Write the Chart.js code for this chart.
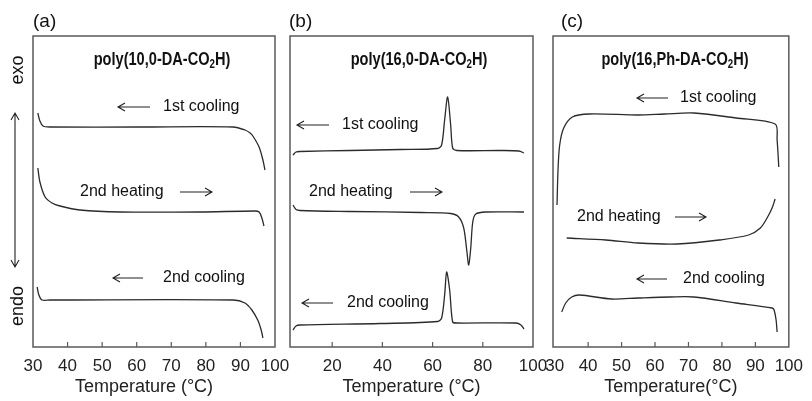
<!DOCTYPE html>
<html>
<head>
<meta charset="utf-8">
<script src="https://cdn.jsdelivr.net/npm/chart.js@4.4.1/dist/chart.umd.min.js"></script>
<style>
  body { margin: 0; background: #fff; }
  #wrap { position: relative; width: 812px; height: 401px; }
  #wrap canvas { position: absolute; left: 0; top: 0; }
</style>
</head>
<body>
<div id="wrap">
  <canvas id="chartA" width="812" height="401"></canvas>
  <canvas id="chartB" width="812" height="401"></canvas>
  <canvas id="chartC" width="812" height="401"></canvas>
</div>
<script>
// tick labels
const ticksA = [30, 40, 50, 60, 70, 80, 90, 100];
const ticksB = [20, 40, 60, 80, 100];
const ticksC = [30, 40, 50, 60, 70, 80, 90, 100];

// (a) poly(10,0-DA-CO2H) - temperature (°C) / heat flow (a.u.)
const tempA1 = [31.4, 32.0, 32.9, 34.9, 61.0, 87.9, 91.3, 92.8, 93.6, 95.4, 96.5, 97.1];
const flowA1 = [234, 226, 221, 220, 220, 220, 217, 214, 211, 200, 187, 177];
const tempA2 = [31.4, 32.0, 33.5, 35.5, 37.8, 43.6, 55.2, 78.3, 94.2, 95.4, 96.2, 96.8];
const flowA2 = [179, 165, 150, 144, 141, 137, 135, 135, 136, 135, 129, 121];
const tempA3 = [31.2, 31.7, 32.6, 34.9, 87.9, 91.3, 93.3, 95.0, 96.0, 96.5];
const flowA3 = [60, 52, 47, 47, 47, 44, 37, 27, 17, 9];

// (b) poly(16,0-DA-CO2H)
const tempB1 = [4.4, 5.6, 7.2, 27.2, 47.2, 62.0, 63.6, 64.8, 66.0, 67.2, 68.0, 69.6, 87.2, 94.4, 96.4];
const flowB1 = [192, 195, 195.5, 196.5, 197.5, 198.5, 202, 227, 250, 222, 199, 196.5, 196.5, 196, 194];
const tempB2 = [4.4, 5.6, 7.2, 27.2, 55.2, 67.2, 70.4, 72.4, 73.6, 74.4, 75.2, 76.0, 77.2, 81.2, 96.4];
const flowB2 = [142, 137.5, 136.5, 135.5, 134.5, 133.5, 130, 119, 97, 82, 99, 125, 133, 135, 135];
const tempB3 = [4.4, 5.6, 7.2, 39.2, 62.0, 63.6, 64.8, 65.6, 66.8, 68.0, 69.6, 93.2, 95.2, 96.4];
const flowB3 = [17, 21, 22, 23.5, 25.5, 29, 52, 75, 57, 25, 24, 24, 22, 18];

// (c) poly(16,Ph-DA-CO2H)
const tempC1 = [30.7, 31.0, 31.5, 32.7, 35.3, 40.3, 54.9, 62.8, 71.6, 84.2, 95.9, 96.5, 97.0];
const flowC1 = [142, 177, 202, 219, 230, 233, 232, 233, 234, 229, 223, 207, 180];
const tempC2 = [33.6, 45.3, 54.9, 66.6, 79.2, 88.0, 91.5, 93.5, 95.0, 95.9];
const flowC2 = [109, 107, 104, 103, 107, 112, 119, 129, 139, 148];
const tempC3 = [32.1, 33.3, 35.1, 37.4, 47.0, 54.9, 64.6, 71.6, 84.2, 95.0, 95.6, 96.2, 96.5];
const flowC3 = [35, 44, 50, 52, 48, 49, 50, 50, 44, 39, 37, 27, 15];

const FONT = '"Liberation Sans", Arial, sans-serif';
const lineColor = '#2b2b2b';

function pts(xs, ys) {
  return xs.map((x, i) => ({ x: x, y: ys[i] }));
}

function curve(xs, ys) {
  return { data: pts(xs, ys), borderColor: lineColor, borderWidth: 1.3, pointRadius: 0, tension: 0.3, fill: false };
}

function arrow(ctx, x1, x2, y) {
  const d = x2 > x1 ? -1 : 1;
  ctx.beginPath();
  ctx.moveTo(x1, y); ctx.lineTo(x2, y);
  ctx.moveTo(x2 + d * 7, y - 4); ctx.lineTo(x2, y); ctx.lineTo(x2 + d * 7, y + 4);
  ctx.stroke();
}

// frame, inward ticks, panel texts
const panelDeco = {
  id: 'panelDeco',
  afterDraw(chart, args, o) {
    const ctx = chart.ctx, a = chart.chartArea, sx = chart.scales.x;
    ctx.save();
    ctx.strokeStyle = '#5a5a5a';
    ctx.lineWidth = 1.5;
    ctx.strokeRect(a.left, a.top, a.right - a.left, a.bottom - a.top);
    ctx.lineWidth = 1.2;
    sx.ticks.forEach(t => {
      const px = sx.getPixelForValue(t.value);
      if (px - a.left < 3 || a.right - px < 3) return;
      ctx.beginPath(); ctx.moveTo(px, a.bottom); ctx.lineTo(px, a.bottom - 5); ctx.stroke();
    });

    ctx.fillStyle = '#111';
    ctx.textBaseline = 'middle';
    ctx.font = '19px ' + FONT;
    ctx.textAlign = 'left';
    ctx.fillText(o.letter, o.letterX, 22);

    // compound name with subscript, squeezed like a narrow bold face
    const sq = 0.81;
    const big = 'bold 18px ' + FONT;
    const small = 'bold 12px ' + FONT;
    ctx.font = big; const w1 = ctx.measureText(o.name[0]).width, w3 = ctx.measureText(o.name[2]).width;
    ctx.font = small; const w2 = ctx.measureText(o.name[1]).width;
    ctx.save();
    ctx.translate(o.nameX - sq * (w1 + w2 + w3) / 2, 0);
    ctx.scale(sq, 1);
    let x = 0;
    ctx.font = big; ctx.fillText(o.name[0], x, 60); x += w1;
    ctx.font = small; ctx.fillText(o.name[1], x, 65); x += w2;
    ctx.font = big; ctx.fillText(o.name[2], x, 60);
    ctx.restore();

    ctx.font = '16px ' + FONT;
    ctx.strokeStyle = '#222';
    ctx.lineWidth = 1.1;
    o.notes.forEach(n => {
      ctx.fillText(n.text, n.x, n.y);
      arrow(ctx, n.a1, n.a2, n.y);
    });

    if (o.side) {
      ctx.font = '18px ' + FONT;
      ctx.textAlign = 'center';
      [['exo', 70], ['endo', 306]].forEach(([t, y]) => {
        ctx.save(); ctx.translate(18, y); ctx.rotate(-Math.PI / 2); ctx.fillText(t, 0, 0); ctx.restore();
      });
      ctx.beginPath();
      ctx.moveTo(15, 113); ctx.lineTo(15, 267);
      ctx.moveTo(11, 120); ctx.lineTo(15, 113); ctx.lineTo(19, 120);
      ctx.moveTo(11, 260); ctx.lineTo(15, 267); ctx.lineTo(19, 260);
      ctx.stroke();
    }
    ctx.restore();
  }
};

function makePanel(id, cfg) {
  return new Chart(document.getElementById(id), {
    type: 'line',
    data: { datasets: cfg.series.map(s => curve(s[0], s[1])) },
    options: {
      responsive: false,
      animation: false,
      layout: { padding: { left: cfg.left, right: 812 - cfg.right, top: 36, bottom: 0 } },
      plugins: { legend: { display: false }, tooltip: { enabled: false }, panelDeco: cfg.deco },
      scales: {
        x: {
          type: 'linear', min: cfg.min, max: 100,
          afterBuildTicks: s => { s.ticks = cfg.ticks.map(v => ({ value: v })); },
          afterFit: s => { s.height = 54; },
          grid: { display: false, drawTicks: false },
          border: { display: false },
          ticks: { padding: 9, color: '#222', font: { family: FONT, size: 17 }, maxRotation: 0, autoSkip: false },
          title: { display: true, text: cfg.title, color: '#222', font: { family: FONT, size: 18 }, padding: { top: 0, bottom: 3 } }
        },
        y: { display: false, min: 0, max: 311 }
      }
    },
    plugins: [panelDeco]
  });
}

makePanel('chartA', {
  left: 33, right: 275, min: 30, ticks: ticksA, title: 'Temperature (°C)    ',
  series: [[tempA1, flowA1], [tempA2, flowA2], [tempA3, flowA3]],
  deco: {
    letter: '(a)', letterX: 33, name: ['poly(10,0-DA-CO', '2', 'H)'], nameX: 162, side: true,
    notes: [
      { text: '1st cooling', x: 163, y: 107, a1: 150, a2: 118 },
      { text: '2nd heating', x: 80, y: 192, a1: 180, a2: 212 },
      { text: '2nd cooling', x: 163, y: 278, a1: 143, a2: 113 }
    ]
  }
});

makePanel('chartB', {
  left: 290, right: 533, min: 3.2, ticks: ticksB, title: 'Temperature (°C)',
  series: [[tempB1, flowB1], [tempB2, flowB2], [tempB3, flowB3]],
  deco: {
    letter: '(b)', letterX: 289, name: ['poly(16,0-DA-CO', '2', 'H)'], nameX: 419,
    notes: [
      { text: '1st cooling', x: 342, y: 125, a1: 329, a2: 297 },
      { text: '2nd heating', x: 309, y: 192, a1: 410, a2: 442 },
      { text: '2nd cooling', x: 347, y: 303, a1: 333, a2: 302 }
    ]
  }
});

makePanel('chartC', {
  left: 553, right: 794, min: 29.5, ticks: ticksC, title: 'Temperature(°C)',
  series: [[tempC1, flowC1], [tempC2, flowC2], [tempC3, flowC3]],
  deco: {
    letter: '(c)', letterX: 561, name: ['poly(16,Ph-DA-CO', '2', 'H)'], nameX: 675,
    notes: [
      { text: '1st cooling', x: 680, y: 98, a1: 668, a2: 637 },
      { text: '2nd heating', x: 577, y: 217, a1: 675, a2: 706 },
      { text: '2nd cooling', x: 683, y: 279, a1: 667, a2: 637 }
    ]
  }
});
</script>
</body>
</html>
